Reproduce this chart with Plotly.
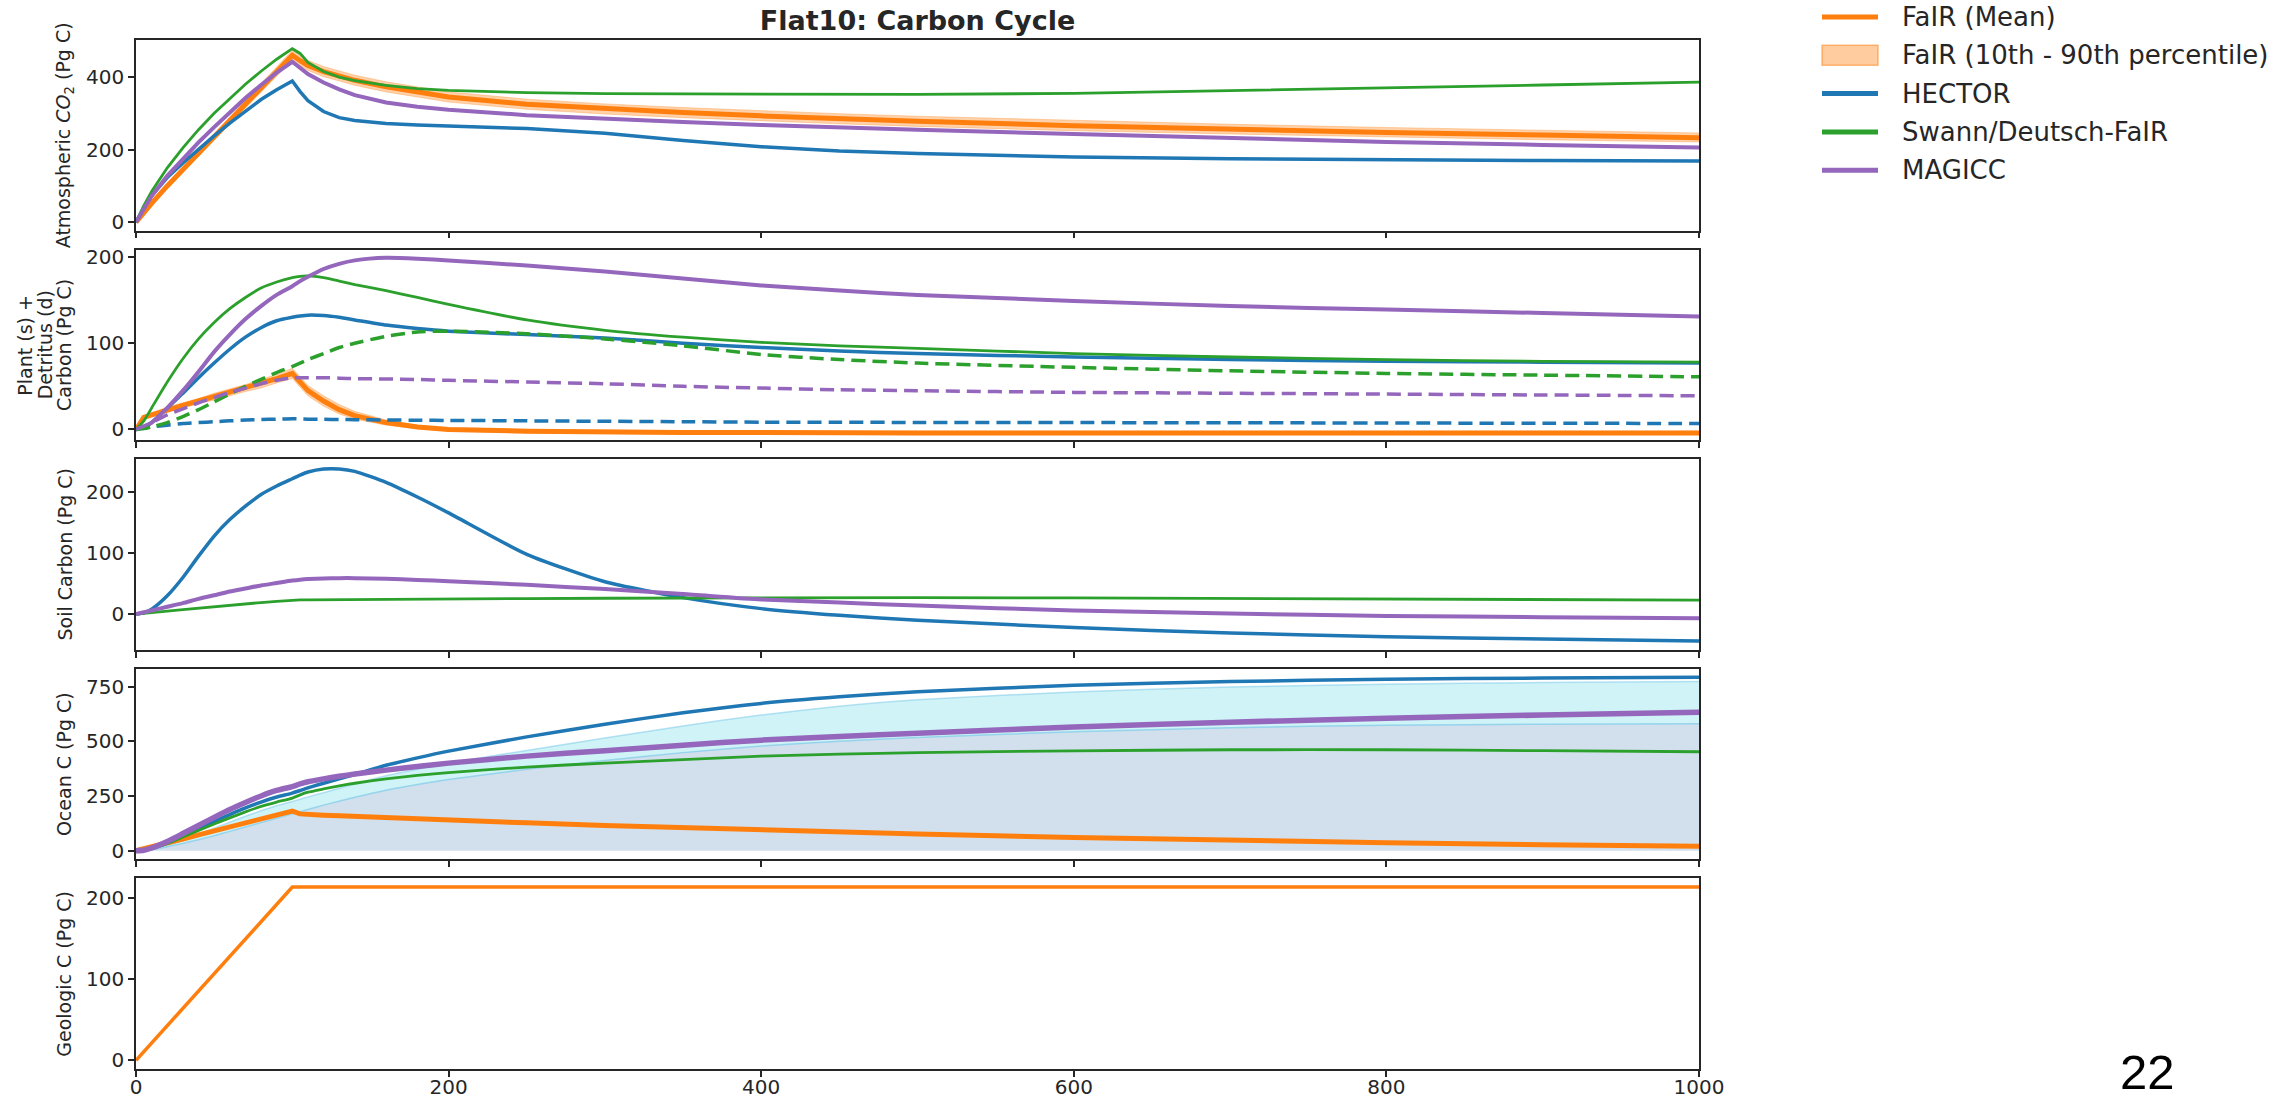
import plotly.graph_objects as go
from plotly.subplots import make_subplots

# ---------------------------------------------------------------- data
years = [0, 5, 10, 20, 30, 40, 50, 60, 70, 80, 90, 100, 105, 110, 120, 130, 140,
         160, 180, 200, 250, 300, 350, 400, 450, 500, 600, 700, 800, 900, 1000]

# Atmospheric CO2 (Pg C)
atm_fair_mean = [0, 28, 52, 100, 145, 190, 235, 280, 325, 370, 415, 460, 445, 432, 415, 402, 391,
                 373, 358, 345, 325, 312, 302, 293, 285, 278, 266, 256, 247, 240, 233]
atm_fair_p10 = [0, 26, 49, 95, 138, 182, 226, 270, 314, 358, 402, 446, 431, 418, 401, 388, 377,
                359, 344, 331, 311, 298, 288, 279, 271, 264, 252, 243, 234, 227, 221]
atm_fair_p90 = [0, 30, 55, 105, 152, 198, 244, 290, 336, 382, 428, 474, 459, 446, 429, 416, 405,
                387, 372, 359, 339, 326, 316, 307, 299, 292, 280, 270, 261, 254, 246]
atm_hector = [0, 40, 73, 123, 163, 202, 238, 273, 307, 338, 365, 389, 360, 335, 305, 288, 280,
              272, 268, 265, 258, 245, 225, 208, 196, 189, 180, 175, 172, 170, 169]
atm_swann = [0, 46, 85, 150, 205, 255, 300, 341, 380, 416, 449, 478, 465, 440, 415, 400, 390,
             377, 368, 363, 357, 354, 353, 352, 352, 352, 355, 362, 370, 378, 386]
atm_magicc = [0, 38, 72, 128, 175, 220, 262, 303, 342, 378, 412, 442, 425, 408, 385, 366, 350,
              330, 318, 310, 295, 285, 276, 268, 261, 255, 243, 231, 221, 213, 206]

# Plant (solid) + detritus (dashed) carbon (Pg C)
veg_fair_mean = [0, 14, 17, 23, 28, 33, 38, 43, 48, 53, 59, 65, 55, 45, 33, 23, 16,
                 8, 3, 0, -2, -3, -3.5, -3.5, -4, -4, -4, -4, -4, -4, -4]
veg_fair_p10 = [0, 12, 15, 20, 25, 30, 34, 39, 44, 48, 54, 59, 49, 39, 27, 18, 12,
                5, 1, -2, -4, -5, -5.5, -5.5, -6, -6, -6, -6, -6, -6, -6]
veg_fair_p90 = [0, 16, 19, 26, 31, 36, 42, 47, 52, 58, 64, 71, 61, 51, 39, 29, 21,
                11, 5, 2, 0, -1, -1.5, -1.5, -2, -2, -2, -2, -2, -2, -2]
veg_hector = [0, 3, 8, 25, 42, 60, 77, 93, 107, 118, 126, 130, 131.5, 132.5, 132, 130, 127,
              121, 117, 114, 110, 106, 100, 95, 91, 88, 84, 81, 79, 78, 77]
veg_swann = [0, 10, 25, 55, 82, 105, 124, 140, 153, 164, 171, 176, 177.5, 178, 176, 172, 168,
             161, 153, 145, 127, 115, 107, 101, 97, 94, 88, 84, 81, 79, 78]
veg_magicc = [0, 3, 8, 25, 45, 67, 90, 110, 128, 143, 156, 166, 172, 177, 186, 192, 196,
              199, 198, 196, 190, 183, 175, 167, 161, 156, 149, 143, 139, 135, 131]
det_hector = [0, 2, 3, 5, 7, 8, 9, 10, 11, 11.5, 12, 12.5, 12.3, 12, 11.8, 11.6, 11.4,
              11, 10.7, 10.5, 10, 9.5, 9, 8.5, 8.3, 8.2, 8, 7.8, 7.5, 7.2, 7]
det_swann = [0, 1, 3, 8, 15, 23, 32, 41, 50, 58, 66, 73, 77, 81, 88, 95, 100,
             108, 113, 114, 111, 105, 97, 87, 81, 77, 72, 68, 65, 63, 61]
det_magicc = [0, 4, 8, 17, 24, 31, 37, 43, 48, 53, 57, 60, 60, 60, 60, 59.5, 59,
              58.5, 58, 57, 55, 53, 50, 48, 46, 45, 43, 42, 41, 40, 39]

# Soil carbon (Pg C)
soil_hector = [0, 2, 8, 30, 60, 95, 128, 155, 177, 196, 210, 222, 228, 233, 238, 238, 234,
               216, 192, 166, 98, 53, 27, 9, -2, -10, -22, -31, -37, -41, -44]
soil_swann = [0, 1, 2.5, 5, 7.5, 10, 12.5, 15, 17, 19, 21, 23, 23.3, 23.5, 23.7, 23.9, 24,
              24.3, 24.6, 25, 25.5, 26, 26.5, 27, 27, 27, 26.5, 25.5, 24.5, 23.5, 23]
soil_magicc = [0, 3, 6, 12, 18, 25, 31, 37, 42, 47, 51, 55, 56.5, 57.5, 58.5, 59, 59,
               58, 56, 54, 48, 41, 33, 24, 19, 14, 6, 1, -3, -5, -7]

# Ocean carbon (Pg C)
ocn_fair_mean = [0, 8, 17, 35, 53, 72, 90, 108, 127, 145, 163, 181, 168, 165, 162, 159, 156,
                 150, 145, 140, 127, 115, 104, 93, 84, 76, 60, 46, 36, 27, 20]
ocn_fair_p10 = [0, 7, 15, 32, 50, 69, 87, 105, 124, 142, 160, 178, 165, 162, 159, 156, 153,
                147, 142, 137, 124, 112, 101, 90, 81, 73, 57, 43, 33, 24, 17]
ocn_fair_p90 = [0, 9, 19, 38, 56, 75, 93, 111, 130, 148, 166, 184, 171, 168, 165, 162, 159,
                153, 148, 143, 130, 118, 107, 96, 87, 79, 63, 49, 39, 30, 23]
ocn_hector = [0, 3, 10, 35, 68, 100, 133, 165, 195, 222, 245, 263, 275, 287, 308, 328, 348,
              390, 424, 455, 520, 578, 630, 673, 703, 726, 756, 773, 783, 789, 792]
ocn_swann = [0, 3, 10, 33, 62, 92, 122, 150, 177, 202, 222, 240, 255, 267, 282, 296, 308,
             328, 344, 357, 382, 400, 416, 432, 441, 448, 456, 461, 461, 457, 452]
ocn_magicc = [0, 2, 12, 42, 78, 115, 152, 188, 220, 250, 275, 293, 305, 315, 328, 340, 350,
              368, 385, 400, 432, 457, 482, 505, 522, 537, 565, 587, 605, 620, 633]
# shaded ocean range: lower and upper bounding curves
ocn_shade_mid = [0, 1, 4, 18, 33, 50, 68, 88, 108, 128, 148, 168, 178, 188, 208, 226, 244,
                 276, 302, 325, 372, 412, 448, 478, 500, 517, 543, 562, 573, 578, 580]
ocn_shade_top = [0, 2, 6, 25, 48, 75, 102, 130, 157, 182, 205, 225, 235, 245, 265, 285, 305,
                 342, 372, 400, 458, 515, 570, 620, 660, 690, 725, 748, 761, 768, 773]

# Geologic carbon (Pg C)
geo_fair_mean = [0, 10.7, 21.4, 42.8, 64.2, 85.6, 107, 128.4, 149.8, 171.2, 192.6, 214, 214, 214, 214, 214, 214,
                 214, 214, 214, 214, 214, 214, 214, 214, 214, 214, 214, 214, 214, 214]

x_ticks = [0, 200, 400, 600, 800, 1000]
y_ranges = [[-23, 502], [-12.4, 208.5], [-58.5, 254], [-40, 831], [-10.7, 224.7]]
y_ticks = [[0, 200, 400], [0, 100, 200], [0, 100, 200], [0, 250, 500, 750], [0, 100, 200]]
y_titles = [["Atmospheric <i>CO</i><sub>2</sub> (Pg C)"],
            ["Plant (s) +", "Detritus (d)", "Carbon (Pg C)"],
            ["Soil Carbon (Pg C)"],
            ["Ocean C (Pg C)"],
            ["Geologic C (Pg C)"]]

legend_labels = ["FaIR (Mean)", "FaIR (10th - 90th percentile)", "HECTOR",
                 "Swann/Deutsch-FaIR", "MAGICC"]

# ---------------------------------------------------------------- style
ORANGE = "#ff7f0e"
BLUE = "#1f77b4"
GREEN = "#2ca02c"
PURPLE = "#9467bd"
BAND = "rgba(255,127,14,0.35)"
BAND_EDGE = "rgba(255,127,14,0.30)"
INK = "#262626"
FONT = "DejaVu Sans, Verdana, sans-serif"

W, H = 2286, 1100
L, R, T, B = 136, 587, 40, 31
PW, PH = W - L - R, H - T - B


def px(xp):
    """figure pixel column -> paper x"""
    return (xp - L) / PW


def py(yp):
    """figure pixel row -> paper y"""
    return (H - B - yp) / PH


fig = make_subplots(rows=5, cols=1, shared_xaxes=True, vertical_spacing=0.0185)


def add_line(row, y, color, width, dash="solid", smooth=False):
    shape = dict(shape="spline", smoothing=0.6) if smooth else dict(shape="linear")
    fig.add_trace(go.Scatter(x=years, y=y, mode="lines",
                             line=dict(color=color, width=width, dash=dash, **shape),
                             showlegend=False, hoverinfo="skip"), row=row, col=1)


def add_band(row, lo, hi):
    fig.add_trace(go.Scatter(x=years, y=lo, mode="lines",
                             line=dict(color=BAND_EDGE, width=1),
                             showlegend=False, hoverinfo="skip"), row=row, col=1)
    fig.add_trace(go.Scatter(x=years, y=hi, mode="lines", fill="tonexty",
                             fillcolor=BAND, line=dict(color=BAND_EDGE, width=1),
                             showlegend=False, hoverinfo="skip"), row=row, col=1)


DASH = "14px,7px"

# Row 1: atmosphere
add_band(1, atm_fair_p10, atm_fair_p90)
add_line(1, atm_fair_mean, ORANGE, 5)
add_line(1, atm_hector, BLUE, 3.5)
add_line(1, atm_swann, GREEN, 2.8)
add_line(1, atm_magicc, PURPLE, 4)

# Row 2: plant + detritus
add_band(2, veg_fair_p10, veg_fair_p90)
add_line(2, veg_fair_mean, ORANGE, 5)
add_line(2, veg_hector, BLUE, 3.5, smooth=True)
add_line(2, veg_swann, GREEN, 2.8, smooth=True)
add_line(2, veg_magicc, PURPLE, 4, smooth=True)
add_line(2, det_hector, BLUE, 3.5, DASH, smooth=True)
add_line(2, det_swann, GREEN, 3.5, DASH, smooth=True)
add_line(2, det_magicc, PURPLE, 3.5, DASH, smooth=True)

# Row 3: soil
add_line(3, soil_hector, BLUE, 3.5, smooth=True)
add_line(3, soil_swann, GREEN, 2.8)
add_line(3, soil_magicc, PURPLE, 4, smooth=True)

# Row 4: ocean, with the shaded range underneath
fig.add_trace(go.Scatter(x=years, y=ocn_shade_mid, mode="lines", fill="tozeroy",
                         fillcolor="rgba(70,130,180,0.25)",
                         line=dict(color="rgba(135,206,235,0.8)", width=1.5,
                                   shape="spline", smoothing=0.6),
                         showlegend=False, hoverinfo="skip"), row=4, col=1)
fig.add_trace(go.Scatter(x=years, y=ocn_shade_top, mode="lines", fill="tonexty",
                         fillcolor="rgba(0,191,205,0.19)",
                         line=dict(color="rgba(135,206,235,0.6)", width=1.5,
                                   shape="spline", smoothing=0.6),
                         showlegend=False, hoverinfo="skip"), row=4, col=1)
add_band(4, ocn_fair_p10, ocn_fair_p90)
add_line(4, ocn_fair_mean, ORANGE, 5)
add_line(4, ocn_hector, BLUE, 3.5, smooth=True)
add_line(4, ocn_swann, GREEN, 2.8, smooth=True)
add_line(4, ocn_magicc, PURPLE, 5.5, smooth=True)

# Row 5: geologic
add_line(5, geo_fair_mean, ORANGE, 3.5)

# ---------------------------------------------------------------- axes
axis_common = dict(showline=True, mirror=True, linecolor=INK, linewidth=1.5,
                   ticks="outside", ticklen=6, tickwidth=1.5, tickcolor=INK,
                   showgrid=False, zeroline=False, automargin=False,
                   tickfont=dict(family=FONT, size=20, color=INK))

for i in range(5):
    fig.update_xaxes(range=[0, 1000], tickvals=x_ticks, row=i + 1, col=1,
                     ticklabelstandoff=-7, **axis_common)
    fig.update_yaxes(range=y_ranges[i], tickvals=y_ticks[i], row=i + 1, col=1,
                     ticklabelstandoff=0, **axis_common)

# y-axis titles as rotated annotations, centred on each panel
for i, lines in enumerate(y_titles):
    dom = fig.layout[f"yaxis{'' if i == 0 else i + 1}"].domain
    n = len(lines)
    for k, line in enumerate(lines):
        cx = 64 - 19.6 * (n - 1 - k)
        fig.add_annotation(text=line, textangle=-90, showarrow=False,
                           xref="paper", yref="paper",
                           x=px(cx), y=(dom[0] + dom[1]) / 2,
                           xanchor="center", yanchor="middle",
                           font=dict(family=FONT, size=19, color=INK))

# legend, drawn beside the panels
handle_x0, handle_x1, text_x = 1822, 1878, 1900
row_y0, row_dy = 17, 38.3
legend_styles = [("line", ORANGE), ("patch", ORANGE), ("line", BLUE),
                 ("line", GREEN), ("line", PURPLE)]
for k, (label, (kind, color)) in enumerate(zip(legend_labels, legend_styles)):
    yc = row_y0 + row_dy * k
    if kind == "line":
        fig.add_shape(type="line", xref="paper", yref="paper",
                      x0=px(handle_x0), x1=px(handle_x1), y0=py(yc), y1=py(yc),
                      line=dict(color=color, width=5))
    else:
        fig.add_shape(type="rect", xref="paper", yref="paper",
                      x0=px(handle_x0), x1=px(handle_x1), y0=py(yc - 10), y1=py(yc + 10),
                      fillcolor="rgba(255,127,14,0.4)",
                      line=dict(color="rgba(255,127,14,0.5)", width=1.5))
    fig.add_annotation(text=label, showarrow=False, xref="paper", yref="paper",
                       x=px(text_x), y=py(yc), xanchor="left", yanchor="middle",
                       font=dict(family=FONT, size=26, color=INK))

# page number
fig.add_annotation(text="22", showarrow=False, xref="paper", yref="paper",
                   x=px(2147), y=py(1072),
                   xanchor="center", yanchor="middle",
                   font=dict(family="Liberation Sans, Arial, sans-serif", size=49, color="black"))

fig.update_layout(
    width=W, height=H,
    margin=dict(l=L, r=R, t=T, b=B, autoexpand=False),
    paper_bgcolor="white", plot_bgcolor="white",
    title=dict(text="<b>Flat10: Carbon Cycle</b>", x=(917.5) / W, xanchor="center",
               y=1 - 20.5 / H, yanchor="middle", automargin=False,
               font=dict(family=FONT, size=27, color=INK)),
    showlegend=False,
)

fig.write_html("out.html")
